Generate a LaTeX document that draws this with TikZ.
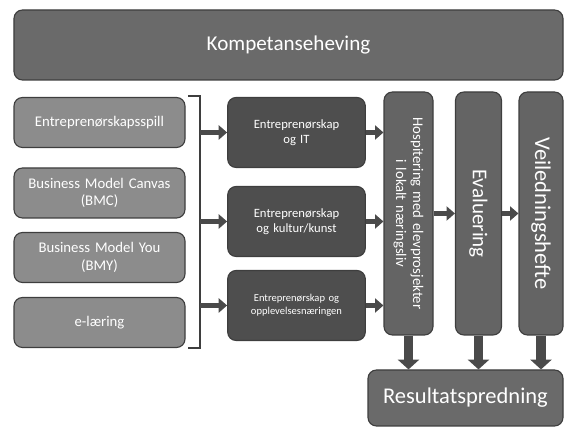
\documentclass[tikz,border=0pt]{standalone}
\usepackage{fontspec}
\setmainfont{Carlito}
\usepackage{tikz}
\usetikzlibrary{arrows.meta, positioning}

\definecolor{boxtop}{HTML}{6A6A6A}
\definecolor{boxlight}{HTML}{8C8C8C}
\definecolor{boxdark}{HTML}{4E4E4E}
\definecolor{boxmid}{HTML}{646464}
\definecolor{edgegrey}{HTML}{3E3E3E}
\definecolor{arrowgrey}{HTML}{4A4A4A}

\tikzset{
  greybox/.style={draw=edgegrey, line width=0.8pt, rounded corners=6pt,
                  text=white, align=center, inner sep=2pt},
  lightbox/.style={greybox, fill=boxlight, minimum width=4.275cm,
                   minimum height=1.25cm, text width=4.1cm, font=\fontsize{10.5}{12.5}\selectfont},
  darkbox/.style={greybox, fill=boxdark, minimum width=3.425cm,
                  minimum height=1.75cm, text width=3.3cm, font=\fontsize{9}{11}\selectfont},
  tallbox/.style={greybox, fill=boxmid, minimum height=1.15cm,
                  minimum width=6.075cm, rotate=-90},
  thinarrow/.style={draw=arrowgrey, line width=3.5pt,
                    -{Triangle[width=10pt,length=6pt]}},
  fatarrow/.style={draw=arrowgrey, line width=7pt,
                   -{Triangle[width=15pt,length=7pt]}}
}

\begin{document}
\begin{tikzpicture}
\useasboundingbox (0,0) rectangle (14.275,10.75);

\node[greybox, fill=boxtop, minimum width=13.725cm, minimum height=1.75cm,
      font=\fontsize{15}{17}\selectfont] (komp) at (7.2125,9.625) {Kompetanseheving};

% venstre kolonne
\node[lightbox] (spill) at (2.4875,7.6875) {Entreprenørskapsspill};
\node[lightbox] (bmc)   at (2.4875,5.925)  {Business Model Canvas\\(BMC)};
\node[lightbox] (bmy)   at (2.4875,4.3125) {Business Model You\\(BMY)};
\node[lightbox] (elaer) at (2.4875,2.6875) {e-læring};

\draw[edgegrey, line width=1pt] (4.7,8.35) -- (5.0,8.35) coordinate (brk) -- (5.0,2.05) -- (4.7,2.05);

% midtre kolonne
\node[darkbox] (eit)    at (7.4125,7.4375) {Entreprenørskap\\og IT};
\node[darkbox] (ekunst) at (7.4125,5.2125) {Entreprenørskap\\og kultur/kunst};
\node[darkbox, font=\fontsize{7.5}{9}\selectfont] (eoppl) at (7.4125,3.1125)
      {Entreprenørskap og\\opplevelsesnæringen};

% høyre kolonne (rotert: south = venstre, north = høyre, east = bunn)
\node[tallbox, minimum height=1.225cm, text width=5.9cm,
      font=\fontsize{10.5}{12}\selectfont] (hosp) at (10.2125,5.4125)
      {Hospitering med elevprosjekter\\i lokalt næringsliv};
\node[tallbox, font=\fontsize{15}{17}\selectfont] (eval) at (11.9625,5.4125) {Evaluering};
\node[tallbox, minimum height=1.1cm, font=\fontsize{16}{18}\selectfont] (veil) at (13.525,5.4125) {Veiledningshefte};

\node[greybox, fill=boxtop, minimum width=4.875cm, minimum height=1.4cm,
      font=\fontsize{16}{18}\selectfont] (res) at (11.6375,0.8) {Resultatspredning};

\foreach \m in {eit,ekunst,eoppl}{
  \draw[thinarrow] (\m.west -| brk) -- (\m.west);
  \draw[thinarrow] (\m.east) -- (\m.east -| hosp.south);
}
\draw[thinarrow] (hosp.north) -- (eval.south);
\draw[thinarrow] (eval.north) -- (veil.south);
%
\foreach \v in {hosp,eval,veil}
  \draw[fatarrow] (\v.east) -- (\v.east |- res.north);
\end{tikzpicture}
\end{document}
